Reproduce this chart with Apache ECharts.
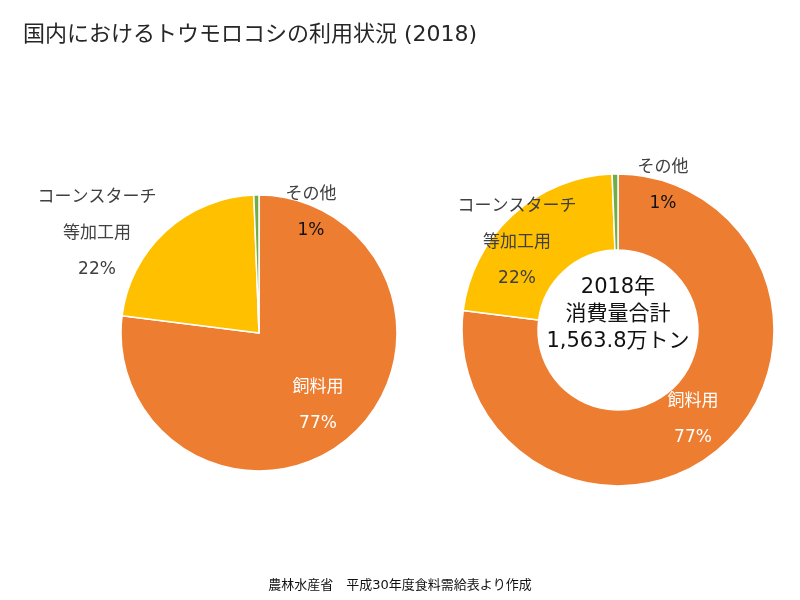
<!DOCTYPE html>
<html><head><meta charset="utf-8">
<script src="https://cdn.jsdelivr.net/npm/echarts@6/dist/echarts.min.js"></script>
<style>html,body{margin:0;padding:0;background:#fff}#c{width:800px;height:600px}</style>
</head><body><div id="c"></div>
<script>
const categories = ['飼料用', 'コーンスターチ\n等加工用', 'その他'];
const values = [77.0, 22.4, 0.6];
const colors = ['#ED7D31', '#FFC000', '#70AD47'];
const titleText = '国内におけるトウモロコシの利用状況 (2018)';
const centerText = '2018年\n消費量合計\n1,563.8万トン';
const sourceText = '農林水産省　平成30年度食料需給表より作成';

const font = '"DejaVu Sans", "Noto Sans CJK JP", sans-serif';
const nameColor = ['#ffffff', '#404040', '#404040'];
const pctColor = ['#ffffff', '#404040', '#111111'];

function makeData() {
  return categories.map((c, i) => ({
    name: c, value: values[i],
    itemStyle: { color: colors[i] },
    label: {
      rich: {
        n: { color: nameColor[i], fontSize: 17, lineHeight: 36, fontFamily: font },
        p: { color: pctColor[i], fontSize: 17, lineHeight: 36, fontFamily: font }
      }
    }
  }));
}
function fmt(p) {
  return p.name.split('\n').map(s => '{n|' + s + '}').join('\n') + '\n{p|' + Math.round(p.percent) + '%}';
}
const leftPos = [[318, 406], [97, 234], [311, 213]];
const rightPos = [[693, 420], [517, 243], [663, 186]];

const chart = echarts.init(document.getElementById('c'), null, { renderer: 'canvas' });
chart.setOption({
  animation: false,
  title: [
    { text: titleText, left: 18, top: 19, textStyle: { fontFamily: font, fontSize: 22, fontWeight: 'normal', color: '#262626' } },
    { text: sourceText, left: 'center', top: 574, textStyle: { fontFamily: font, fontSize: 13, fontWeight: 'normal', color: '#111' } }
  ],
  graphic: [{
    type: 'text', x: 618, y: 315,
    style: { text: centerText, textAlign: 'center', textVerticalAlign: 'middle', fill: '#111', fontSize: 21, lineHeight: 27, fontFamily: font }
  }],
  series: [
    {
      type: 'pie', center: [259, 333], radius: [0, 138], startAngle: 90, clockwise: true,
      itemStyle: { borderColor: '#fff', borderWidth: 1.5 },
      label: { show: true, position: 'inside', formatter: fmt },
      labelLine: { show: false },
      labelLayout: p => ({ x: leftPos[p.dataIndex][0], y: leftPos[p.dataIndex][1], align: 'center', verticalAlign: 'middle' }),
      emphasis: { disabled: true },
      data: makeData()
    },
    {
      type: 'pie', center: [618, 330], radius: [80, 156], startAngle: 90, clockwise: true,
      itemStyle: { borderColor: '#fff', borderWidth: 1.5 },
      label: { show: true, position: 'inside', formatter: fmt },
      labelLine: { show: false },
      labelLayout: p => ({ x: rightPos[p.dataIndex][0], y: rightPos[p.dataIndex][1], align: 'center', verticalAlign: 'middle' }),
      emphasis: { disabled: true },
      data: makeData()
    }
  ]
});
</script></body></html>
